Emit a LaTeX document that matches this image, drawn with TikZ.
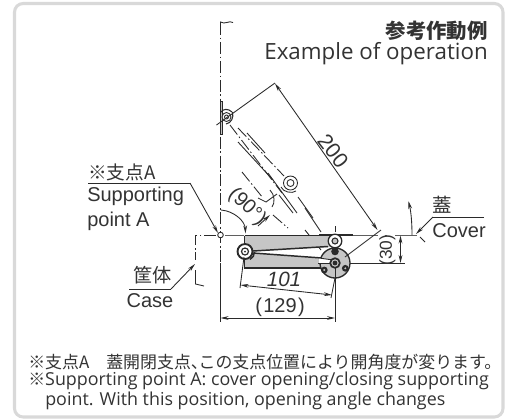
\documentclass[tikz,border=0pt]{standalone}
\usepackage{fontspec}
\setmainfont{Liberation Sans}
\newfontfamily\cjk{Noto Sans CJK JP}
\newfontfamily\hum{Open Sans}
\usetikzlibrary{arrows.meta}
\definecolor{ink}{HTML}{2A2A2A}
\definecolor{txt}{HTML}{333333}
\definecolor{body}{HTML}{C6C6C6}
\definecolor{frame}{HTML}{D9D9D9}
\tikzset{
  ln/.style={draw=ink,line width=0.65pt},
  cl/.style={draw=ink,line width=0.65pt,dash pattern=on 9pt off 2pt on 1.2pt off 2pt},
  arr/.style={-{Stealth[length=6pt,width=2.8pt]}},
  dbl/.style={{Stealth[length=6pt,width=2.8pt]}-{Stealth[length=6pt,width=2.8pt]}},
  lbl/.style={text=txt,inner sep=0pt,font=\fontsize{15pt}{16pt}\selectfont},
  jlbl/.style={text=txt,inner sep=0pt,font=\fontsize{14.4pt}{16pt}\selectfont\cjk},
  note/.style={text=txt,inner sep=0pt,anchor=west,font=\fontsize{13.4pt}{15pt}\selectfont\hum},
}
\begin{document}
\begin{tikzpicture}[x=0.75pt,y=-0.75pt]
\useasboundingbox (0,0) rectangle (507,419);
\draw[draw=frame,line width=2.3pt,rounded corners=6.5pt] (14.5,3.5) rectangle (503,417);

% named points
\coordinate (A) at (220.5,235);
\coordinate (disc) at (335,263);
\coordinate (upv) at (335,241);
\coordinate (lpv) at (245,251.5);
\coordinate (topv) at (226.5,117);
\coordinate (midv) at (290.5,183);

% title
\node[text=txt,inner sep=0pt,anchor=east,font=\fontsize{15.3pt}{16pt}\selectfont\cjk\bfseries] (t1) at (488,31) {参考作動例};
\node[text=txt,inner sep=0pt,anchor=east,font=\fontsize{16.75pt}{18pt}\selectfont\hum] (t2) at (488,54) {Example of operation};

% centre line and top break
\draw[cl] (220.5,23) -- (220.5,262);
\draw[ln] (233,22.5) .. controls (229,20) and (225,25) .. (220.5,22) -- (220.5,30);
\draw[ln] (A) ++(0,28) -- (220.5,322);

% rotated state
\draw[draw=ink,fill=body,line width=0.5pt] (220.2,101) rectangle (222.6,134);
\draw[ln,fill=white] (topv) circle (4.5);
\draw[ln] (topv) circle (2);
\draw[ln,line width=0.8pt] (232.5,112) .. controls (234,118) and (231,123) .. (226,124);
\draw[ln,line width=0.8pt] (221,112) .. controls (223,109) and (228,108) .. (232,112);
\draw[ln,fill=white] (midv) circle (7);
\draw[ln] (midv) circle (3.5);
\draw[ln] (281,187) .. controls (283,192) and (292,194) .. (296,191);

\draw[cl] (230,125) -- (282,193);
\draw[cl] (238,128) -- (284,176);
\draw[ln] (247,133) -- (265,153);
\draw[ln] (238,142) -- (273,180);
\draw[ln] (268,173) -- (297,213);
\draw[ln] (298,197) -- (313,218);
\draw[cl] (242,172) -- (263,198);
\draw[ln] (279,195) -- (293,213);
\draw[ln] (305,208) -- (321,232);
\draw[cl] (273,215) -- (288,228);
\draw[ln] (305,230) -- (321,250);
% small construction mark
\draw[ln] (258,198) -- (266,202) -- (277,194);
\draw[ln] (270,190) .. controls (275,195) and (275,203) .. (272,207);

% 90 deg
\draw[ln,arr] (221,210) .. controls (234,211) and (245,221) .. (245.5,233.5);
\node[lbl,rotate=-44] (n90) at (247,207) {(90°)};
\draw[ln,arr] (258,226) -- (270,215);

% horizontal lines
\draw[draw=ink!75,line width=0.7pt] (225,235) -- (244,235);
\draw[draw=ink!75,line width=0.7pt] (352,235) -- (378,235);
\draw[draw=ink!75,line width=0.7pt] (385,235) -- (387,235);
\draw[draw=ink!75,line width=0.7pt] (395,235) -- (417,235);
\draw[ln,fill=white] (A) circle (2.8);
\draw[cl] (420,237) -- (425,242);

% body
\path[fill=body] (244.5,235.5) -- (330,235.5) -- (330,247) -- (253,251.5) -- (244.5,247) -- cycle;
\path[fill=body] (244.5,256) -- (253,253) -- (322,258.5) -- (325,268) -- (244.5,268) -- cycle;
\draw[ln,line width=1pt] (244.5,235.5) -- (330,235.5);
\draw[ln,line width=0.8pt] (244.5,235.5) -- (244.5,246);
\draw[ln,line width=0.8pt] (244.5,257) -- (244.5,268) -- (322,268);
\draw[ln,line width=1.1pt] (253,251) -- (328,246.5);
\draw[ln,line width=1.1pt] (253,253) -- (322,258);
% cover plate
\draw[ink,line width=2.1pt] (319,235) -- (352.5,235);

% disc
\draw[ink,fill=body,line width=1pt] (disc) circle (15);
\fill[white] (319,258) -- (333,260) -- (333,263) -- (319,263) -- cycle;
\draw[ln] (319,258) -- (333,260);
\draw[ln] (318,263) -- (333,263);
\fill[ink] (324.3,270) circle (3.4);
\fill[ink] (345.3,268.3) circle (3.4);
\fill[ink] (335,251.5) circle (3.8);
\fill[body] (324.3,270) circle (1.1);
\fill[body] (345.3,268.3) circle (1.1);
\draw[ink,fill=body,line width=1.3pt] (disc) circle (4.8);
\fill[ink] (disc) circle (2.4);
\draw[ln,fill=white,line width=1pt] (upv) circle (6.8);
\draw[ln,fill=body,line width=0.8pt] (upv) circle (3);
\draw[ln] (335,232) -- (335,226);

% left pivot
\draw[ink,line width=1.4pt,fill=white] (lpv) circle (7.5);
\draw[ink,line width=0.9pt,fill=white] (lpv) circle (3.5);
\fill[ink] (lpv) circle (1);
\draw[ink,line width=1pt] (250,259.5) .. controls (253,258) and (254.5,255) .. (254.5,252);

% dim 200
\draw[ln] (216.5,125) -- (275,83);
\draw[ln] (381,230) -- (345,257);
\draw[ln,dbl] (275,83.5) -- (377.5,230);
\node[lbl,rotate=-52,font=\fontsize{16pt}{16pt}\selectfont] (d200) at (333,151) {200};

% dim 101
\draw[ln] (244,257) -- (240,288);
\draw[ln] (335,278) -- (331,298);
\draw[ln,dbl] (240.5,285) -- (332,295);
\node[lbl,font=\fontsize{15.5pt}{16pt}\selectfont\itshape] (d101) at (284,279.5) {101};

% dim 129
\draw[ln] (335,268) -- (335,322);
\draw[ln,dbl] (220.5,318) -- (335,318);
\node[lbl] (d129) at (280,307) {(\kern1pt 129\kern1pt )};

% dim 30
\draw[ln] (350,263) -- (405,263);
\draw[ln,dbl] (400.5,235.5) -- (400.5,263);
\node[lbl,rotate=90,font=\fontsize{13pt}{14pt}\selectfont] (d30) at (387.5,250) {(30)};

% cover
\coordinate (covk) at (433,217);
\coordinate (cove) at (484,217);
\draw[ln,arr] (412,235) .. controls (412,222) and (411,212) .. (408.5,201);
\draw[ln] (cove) -- (covk);
\draw[ln,arr] (covk) -- (416,234);
\node[jlbl,font=\fontsize{14.6pt}{16pt}\selectfont\cjk] (cv1) at (442.5,205) {蓋};
\node[lbl] (cv2) at (459,230.5) {Cover};

% supporting point A
\node[text=txt,inner sep=0pt,anchor=west,font=\fontsize{14pt}{16pt}\selectfont\cjk] (sp1) at (88,172) {※支点A};
\node[lbl,anchor=west] (sp2) at (87,196) {Supporting};
\node[lbl,anchor=west] (sp3) at (87,221) {point A};
\coordinate (spk) at (190,183);
\draw[ln] (88,183) -- (spk);
\draw[ln,arr] (spk) -- (218,233);

% case
\node[jlbl] (cs1) at (152.5,275) {筐体};
\node[lbl] (cs2) at (150,301) {Case};
\coordinate (csk) at (171,289);
\draw[ln] (129,289) -- (csk);
\draw[ln,arr] (csk) -- (195,264);
\draw[cl] (216,235) -- (195.5,235) -- (195.5,260);
\draw[ln] (195.5,270) -- (195.5,284) -- (204,286);

% notes
\node[note,font=\fontsize{12.7pt}{15pt}\selectfont\cjk] (n1) at (28,362) {※支点A　蓋開閉支点、\kern-0.55em この支点位置により開角度が変ります。};
\node[note] (n2) at (28,381) {{\cjk\fontsize{12.7pt}{15pt}\selectfont ※}Supporting point A: cover opening/closing supporting};
\node[note] (n3) at (45,401) {point. With this position, opening angle changes};
\end{tikzpicture}
\end{document}
